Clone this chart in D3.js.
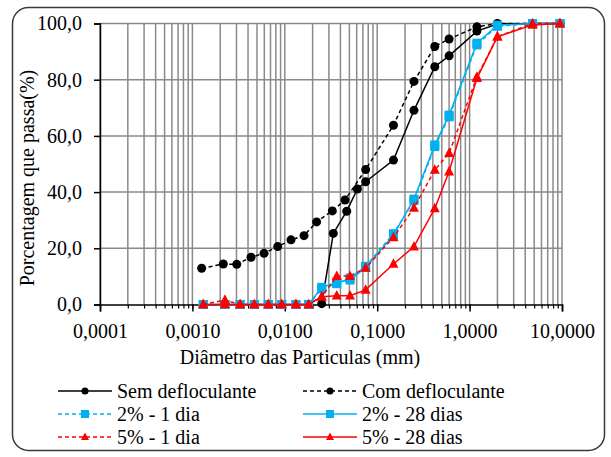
<!DOCTYPE html>
<html>
<head>
<meta charset="utf-8">
<script src="https://cdn.jsdelivr.net/npm/d3@7"></script>
<style>
  html, body { margin: 0; padding: 0; background: #fff; }
  svg { display: block; }
  text { font-family: "Liberation Serif", "Times New Roman", serif; fill: #000; }
</style>
</head>
<body>
<svg id="chart" width="611" height="457"></svg>
<script>
// Sieve openings (mm) shared by all curves
const sieveD = [0.075, 0.15, 0.25, 0.42, 0.6, 1.2, 2.0, 4.8, 9.5];

// Sem defloculante: sedimentation + sieve
const semD = [0.0251, 0.0335, 0.0468, 0.061].concat(sieveD);
const semP = [0.3, 25.3, 33.2, 41.1, 43.7, 51.4, 69.1, 84.6, 88.5, 97.3, 99.8, 100, 100];

// Com defloculante: sedimentation + sieve
const comD = [0.00126, 0.00216, 0.00302, 0.00431, 0.00596, 0.00838, 0.01167, 0.01614, 0.0221, 0.0327, 0.0448].concat(sieveD);
const comP = [12.9, 14.4, 14.3, 16.8, 18.2, 20.6, 23.0, 24.5, 29.4, 33.3, 37.2, 48.0, 63.8, 79.4, 91.8, 94.5, 98.8, 100, 100, 100];

// Treated samples: sedimentation diameters + sieve
const treatD = [0.00131, 0.00225, 0.00328, 0.00468, 0.00663, 0.00926, 0.0132, 0.0181, 0.0251, 0.0365, 0.0508].concat(sieveD);
const cal2d1P  = [0, 0, 0, 0, 0, 0, 0, 0, 5.6, 7.4, 9.4, 13.6, 25.2, 37.0, 56.2, 66.8, 92.4, 99.0, 100, 100];
const cal2d28P = [0, 0, 0, 0, 0, 0, 0, 0, 6.1, 7.8, 8.7, 13.2, 24.7, 37.5, 56.8, 67.4, 93.0, 99.4, 100, 100];
const cal5d1P  = [0, 1.6, 0, 0, 0, 0, 0, 0, 2.8, 10.1, 10.1, 13.0, 23.9, 34.4, 47.9, 53.8, 81.0, 95.3, 100, 100];
const cal5d28P = [0, 0, 0, 0, 0, 0, 0, 0, 2.8, 3.1, 3.1, 5.2, 14.4, 20.6, 34.2, 47.3, 80.5, 95.3, 99.5, 100];

// Axis ticks
const xTickValues = [0.0001, 0.001, 0.01, 0.1, 1, 10];
const xTickLabels = ["0,0001", "0,0010", "0,0100", "0,1000", "1,0000", "10,0000"];
const yTickValues = [0, 20, 40, 60, 80, 100];
const yTickLabels = ["0,0", "20,0", "40,0", "60,0", "80,0", "100,0"];

const seriesNames = ["Sem  defloculante", "Com  defloculante", "2% - 1 dia", "2% - 28 dias", "5% - 1 dia", "5% - 28 dias"];

const BLACK = "#000000", BLUE = "#00B0F0", RED = "#FF0000";
const series = [
  { name: seriesNames[0], d: semD,   p: semP,     color: BLACK, dash: null,  marker: "circle" },
  { name: seriesNames[1], d: comD,   p: comP,     color: BLACK, dash: "4,3", marker: "circle" },
  { name: seriesNames[2], d: treatD, p: cal2d1P,  color: BLUE,  dash: "4,3", marker: "square" },
  { name: seriesNames[3], d: treatD, p: cal2d28P, color: BLUE,  dash: null,  marker: "square" },
  { name: seriesNames[4], d: treatD, p: cal5d1P,  color: RED,   dash: "4,3", marker: "triangle" },
  { name: seriesNames[5], d: treatD, p: cal5d28P, color: RED,   dash: null,  marker: "triangle" }
];

const svg = d3.select("#chart");

// Outer frame
svg.append("rect")
  .attr("x", 12.5).attr("y", 7.5).attr("width", 592).attr("height", 443)
  .attr("rx", 16).attr("ry", 16)
  .attr("fill", "#fff").attr("stroke", "#3a3a3a").attr("stroke-width", 1.5);

const plot = { left: 100, right: 562, top: 23.5, bottom: 304.5 };
const x = d3.scaleLog().domain([0.0001, 10]).range([plot.left, plot.right]);
const y = d3.scaleLinear().domain([0, 100]).range([plot.bottom, plot.top]);

// Grid: every log subdivision vertically, every 20 % horizontally
const minorX = [];
for (let e = -4; e < 1; e++) {
  for (let m = 1; m <= 9; m++) minorX.push(m * Math.pow(10, e));
}
minorX.push(10);

const grid = svg.append("g").attr("stroke", "#8a8a8a").attr("stroke-width", 1.5);
grid.selectAll("line.v").data(minorX).join("line")
  .attr("x1", d => x(d)).attr("x2", d => x(d))
  .attr("y1", plot.top).attr("y2", plot.bottom);
grid.selectAll("line.h").data(yTickValues.filter(v => v > 0)).join("line")
  .attr("x1", plot.left).attr("x2", plot.right)
  .attr("y1", d => y(d)).attr("y2", d => y(d));

// Y axis
const yAxis = d3.axisLeft(y).tickValues(yTickValues)
  .tickFormat((d, i) => yTickLabels[i]).tickSize(6).tickPadding(12);
const gy = svg.append("g").attr("transform", `translate(${plot.left},0)`).call(yAxis);
gy.select(".domain").attr("stroke", "#000").attr("stroke-width", 1.5);
gy.selectAll(".tick line").attr("stroke", "#000").attr("stroke-width", 1.5);
gy.selectAll(".tick text").style("font-size", "20px")
  .style("font-family", "'Liberation Serif', 'Times New Roman', serif").attr("fill", "#000");

// X axis: minor ticks then major labelled ticks
const gxMinor = svg.append("g").attr("transform", `translate(0,${plot.bottom})`)
  .call(d3.axisBottom(x).tickValues(minorX).tickFormat("").tickSize(4));
gxMinor.select(".domain").remove();
gxMinor.selectAll(".tick line").attr("stroke", "#000").attr("stroke-width", 1.2);

const xAxis = d3.axisBottom(x).tickValues(xTickValues)
  .tickFormat((d, i) => xTickLabels[i]).tickSize(7).tickPadding(12);
const gx = svg.append("g").attr("transform", `translate(0,${plot.bottom})`).call(xAxis);
gx.select(".domain").attr("stroke", "#000").attr("stroke-width", 1.5);
gx.selectAll(".tick line").attr("stroke", "#000").attr("stroke-width", 1.5);
gx.selectAll(".tick text").style("font-size", "20px")
  .style("font-family", "'Liberation Serif', 'Times New Roman', serif").attr("fill", "#000");

// Axis titles
svg.append("text")
  .attr("x", 300).attr("y", 364).attr("text-anchor", "middle")
  .style("font-size", "20px").text("Diâmetro  das Particulas (mm)");
svg.append("text")
  .attr("transform", "translate(34,178) rotate(-90)").attr("text-anchor", "middle")
  .style("font-size", "20px").text("Porcentagem que passa(%)");

// Marker drawing helper
function drawMarker(g, kind, cx, cy, color, s) {
  if (kind === "circle") {
    g.append("circle").attr("cx", cx).attr("cy", cy).attr("r", s * 0.5).attr("fill", color);
  } else if (kind === "square") {
    g.append("rect").attr("x", cx - s / 2).attr("y", cy - s / 2)
      .attr("width", s).attr("height", s).attr("fill", color);
  } else {
    const h = s * 0.95;
    g.append("path")
      .attr("d", `M${cx},${cy - h * 0.6}L${cx + s / 2},${cy + h * 0.4}L${cx - s / 2},${cy + h * 0.4}Z`)
      .attr("fill", color);
  }
}

// Series lines and markers
const line = d3.line().x(d => x(d[0])).y(d => y(d[1]));
series.forEach(s => {
  const pts = s.d.map((d, i) => [d, s.p[i]]);
  const g = svg.append("g");
  g.append("path").datum(pts).attr("d", line)
    .attr("fill", "none").attr("stroke", s.color).attr("stroke-width", 1.5)
    .attr("stroke-dasharray", s.dash);
  const size = s.marker === "circle" ? 9 : (s.marker === "square" ? 9 : 10);
  pts.forEach(p => drawMarker(g, s.marker, x(p[0]), y(p[1]), s.color, size));
});

// Legend: two columns, three rows
const legendRows = [391, 414, 437];
const legendCols = [58, 303];
series.forEach((s, i) => {
  const col = legendCols[i % 2];
  const row = legendRows[Math.floor(i / 2)];
  const g = svg.append("g");
  g.append("line").attr("x1", col).attr("x2", col + 54).attr("y1", row).attr("y2", row)
    .attr("stroke", s.color).attr("stroke-width", 1.5).attr("stroke-dasharray", s.dash);
  drawMarker(g, s.marker, col + 27, row, s.color, s.marker === "circle" ? 7 : 8);
  g.append("text").attr("x", col + 59).attr("y", row + 7)
    .style("font-size", "20px").text(s.name);
});
</script>
</body>
</html>
